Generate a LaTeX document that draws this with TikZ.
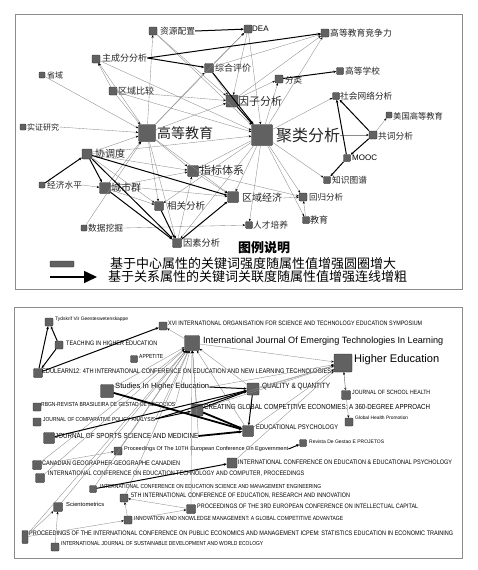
\documentclass[tikz,border=0pt]{standalone}
\usepackage{fontspec}
\setmainfont{Liberation Sans}
\newfontfamily\cjk{Noto Sans CJK SC}
\usetikzlibrary{arrows.meta}
\newcommand\bw[2]{\scalebox{1}[1.18]{\resizebox{#1pt}{!}{#2}}}
\newcommand\bm[2]{\resizebox{#1pt}{!}{#2}}
\tikzset{
  sq/.style={draw=black!85, fill=black!62, rounded corners=0.8pt, minimum size=#1, inner sep=0pt, line width=0.4pt},
  tl/.style={anchor=west, inner sep=0pt, text=black!85, font=\cjk\fontsize{#1}{#1}\selectfont},
  el/.style={anchor=west, inner sep=0pt, text=black},
  ln/.style={draw=black!45, line width=0.35pt, -{Stealth[length=2.6pt,width=2.2pt,black]}},
  lk/.style={draw=black, line width=1.0pt, -{Stealth[length=3pt,width=2.6pt]}},
  lkk/.style={draw=black, line width=1.8pt, -{Stealth[length=3.4pt,width=3pt]}},
  frame/.style={draw=black!45, line width=0.8pt}
}
\begin{document}
\begin{tikzpicture}[x=1pt,y=-1pt]
\useasboundingbox (0,0) rectangle (477,570);
\fill[white] (0,0) rectangle (477,570);
\draw[frame] (15,14) rectangle (462,289);
\draw[frame] (14,307) rectangle (462,558);

% ---------- top panel nodes ----------
\node[sq=8]  (zyp)  at (153,31)  {};
\node[sq=8]  (dea)  at (248,29)  {};
\node[sq=8]  (jzl)  at (325,33)  {};
\node[sq=8]  (zcf)  at (96,59)   {};
\node[sq=9]  (zhp)  at (209,68)  {};
\node[sq=6]  (sy)   at (42,75)   {};
\node[sq=7]  (gdx)  at (340,71)  {};
\node[sq=8]  (fl)   at (279,79)  {};
\node[sq=8]  (qyb)  at (113,91)  {};
\node[sq=12] (yzf)  at (232,101) {};
\node[sq=7]  (shw)  at (336,96)  {};
\node[sq=6]  (mg)   at (389,115) {};
\node[sq=6]  (szy)  at (23,127)  {};
\node[sq=17] (gdjy) at (147,133) {};
\node[sq=21] (jl)   at (262,135) {};
\node[sq=8]  (gc)   at (373,135) {};
\node[sq=10] (xtd)  at (87,154)  {};
\node[sq=7]  (mooc) at (347,158) {};
\node[sq=11] (zbt)  at (193,171) {};
\node[sq=7]  (zs)   at (327,180) {};
\node[sq=6]  (jj)   at (42,185)  {};
\node[sq=11] (csq)  at (105,188) {};
\node[sq=11] (qyj)  at (233,197) {};
\node[sq=8]  (hg)   at (303,197) {};
\node[sq=9]  (xg)   at (159,206) {};
\node[sq=7]  (jy)   at (306,220) {};
\node[sq=7]  (rc)   at (249,225) {};
\node[sq=6]  (sj)   at (84,228)  {};
\node[sq=9]  (ys)   at (177,243) {};

\node[tl=8.7] (zypL)  at (160,31)  {资源配置};
\node[el, font=\fontsize{8}{8}\selectfont] (deaL) at (252,29) {DEA};
\node[tl=8.8] (jzlL)  at (330,33)  {高等教育竞争力};
\node[tl=9]   (zcfL)  at (102,58)  {主成分分析};
\node[tl=9]   (zhpL)  at (215,68)  {综合评价};
\node[tl=8]   (syL)   at (47,75)   {省域};
\node[tl=8.7] (gdxL)  at (345,71)  {高等学校};
\node[tl=8.5] (flL)   at (285,80)  {分类};
\node[tl=9]   (qybL)  at (118,91)  {区域比较};
\node[tl=11]  (yzfL)  at (238,101) {因子分析};
\node[tl=8.7] (shwL)  at (340,96)  {社会网络分析};
\node[tl=8.3] (mgL)   at (393,116) {美国高等教育};
\node[tl=8]   (szyL)  at (27,127)  {实证研究};
\node[tl=14]  (gdjyL) at (157,133) {高等教育};
\node[tl=16]  (jlL)   at (276,135) {聚类分析};
\node[tl=8.7] (gcL)   at (378,136) {共词分析};
\node[tl=10]  (xtdL)  at (95,154)  {协调度};
\node[el, font=\fontsize{8}{8}\selectfont] (moocL) at (352,158) {MOOC};
\node[tl=11]  (zbtL)  at (200,170) {指标体系};
\node[tl=8.7] (zsL)   at (332,180) {知识图谱};
\node[tl=8.7] (jjL)   at (47,185)  {经济水平};
\node[tl=10]  (csqL)  at (111,188) {城市群};
\node[tl=10]  (qyjL)  at (242,198) {区域经济};
\node[tl=8.5] (hgL)   at (309,197) {回归分析};
\node[tl=9.5] (xgL)   at (167,206) {相关分析};
\node[tl=9]   (jyL)   at (310,220) {教育};
\node[tl=8.7] (rcL)   at (253,225) {人才培养};
\node[tl=8.7] (sjL)   at (88,228)  {数据挖掘};
\node[tl=9.2] (ysL)   at (183,243) {因素分析};

% ---------- top panel edges ----------
\foreach \a/\b in {gdjy/zyp, gdjy/zcf, zyp/yzf, zyp/jl, sy/gdjy, szyL.east/gdjy,
  qyb/gdjy, qyb/yzf, qyb/jl, gdjy/yzf, gdjy/zhp, gdjy/dea, zhp/yzf, zhp/dea,
  zhp/jzl, dea/yzf, dea/jl, yzf/fl, jl/fl, yzf/jzl, jl/jzl, jl/shw, jlL.east/gc,
  gc/mg, jl/zs, jl/hg, jl/jy, jl/rc, jl/zbt, jl/qyj, jl/xg, jl/ys, gdjy/zbt,
  gdjy/xg, gdjy/ys, gdjy/qyj, xtd/xg, xtd/zbt, xtd/gdjy, xtd/jl, jjL.east/csq,
  csq/xg, csqL.east/qyj, csq/gdjy, csq/zbt, sjL.east/rc, sj/gdjy, ys/zbt,
  qyjL.east/hg, zbt/hg, jy/hg, zbt/qyj, zcf/jl, qyb/zcf}
  \draw[ln] (\a) -- (\b);
\foreach \a/\b in {zypL.east/dea, zcfL.east/jzl, zcfL.east/zhp, zhp/jl, yzf/jl,
  fl/gdx, gc/shw, gc/mooc, mooc/shw, mooc/zs, jj/xtd, xtd/csq, xtd/ys, xtd/qyj,
  csq/ys, xg/ys, ys/qyj}
  \draw[lk] (\a) -- (\b);

% ---------- legend ----------
\node[font=\cjk\bfseries\fontsize{13}{13}\selectfont, inner sep=0pt] (legT) at (264,248) {图例说明};
\node[sq=6, minimum width=24] (legBox) at (62,264) {};
\coordinate (legA) at (50,277);
\coordinate (legB) at (97,277);
\draw[line width=1.6pt, -{Triangle[length=13pt,width=12pt]}] (legA) -- (legB);
\node[anchor=west, inner sep=0pt, font=\cjk\fontsize{13}{13}\selectfont] (leg1) at (110,264) {基于中心属性的关键词强度随属性值增强圆圈增大};
\node[anchor=west, inner sep=0pt, font=\cjk\fontsize{13}{13}\selectfont] (leg2) at (108,277) {基于关系属性的关键词关联度随属性值增强连线增粗};

% ---------- bottom panel nodes ----------
\node[sq=8]  (tyd)   at (49,322)  {};
\node[sq=8]  (teach) at (59,345)  {};
\node[sq=9]  (edu12) at (38,373)  {};
\node[sq=7]  (app)   at (134,359) {};
\node[sq=8]  (xvi)   at (163,326) {};
\node[sq=15] (ijet)  at (192,343) {};
\node[sq=18] (he)    at (343,363) {};
\node[sq=13] (sihe)  at (107,391) {};
\node[sq=8]  (rbgn)  at (37,407)  {};
\node[sq=8]  (jcpa)  at (37,422)  {};
\node[sq=12] (qq)    at (253,389) {};
\node[sq=12] (cge)   at (197,410) {};
\node[sq=9]  (jsh)   at (346,395) {};
\node[sq=8]  (ghp)   at (349,422) {};
\node[sq=11] (ep)    at (248,431) {};
\node[sq=11] (jssm)  at (49,438)  {};
\node[sq=8]  (p10)   at (118,451) {};
\node[sq=7]  (rgp)   at (303,443) {};
\node[sq=9]  (cgc)   at (37,465)  {};
\node[sq=10] (iceep) at (232,463) {};
\node[sq=9]  (icet)  at (40,478)  {};
\node[sq=7]  (icesm) at (93,489)  {};
\node[sq=8]  (iceri) at (124,498) {};
\node[sq=9]  (scim)  at (58,507)  {};
\node[sq=9]  (ecic)  at (191,509) {};
\node[sq=8]  (ikm)   at (128,520) {};
\node[sq=6, minimum height=13] (icpem) at (25,537) {};
\node[sq=8]  (ijsd)  at (55,547)  {};

\node[el] (tydL)   at (55,319)  {\bm{73}{Tydskrif Vir Geesteswetenskappe}};
\node[el] (teachL) at (66,343)  {\bw{91}{TEACHING IN HIGHER EDUCATION}};
\node[el] (edu12L) at (42,371)  {\bw{289}{EDULEARN12: 4TH INTERNATIONAL CONFERENCE ON EDUCATION AND NEW LEARNING TECHNOLOGIES}};
\node[el] (appL)   at (139,356) {\bw{24}{APPETITE}};
\node[el] (xviL)   at (168,323) {\bw{254}{XVI INTERNATIONAL ORGANISATION FOR SCIENCE AND TECHNOLOGY EDUCATION SYMPOSIUM}};
\node[el] (ijetL)  at (203,341) {\bm{240}{International Journal Of Emerging Technologies In Learning}};
\node[el] (heL)    at (354,360) {\bm{85}{Higher Education}};
\node[el] (siheL)  at (115,387) {\bm{94}{Studies In Higher Education}};
\node[el] (rbgnL)  at (41,404)  {\bw{134}{RBGN-REVISTA BRASILEIRA DE GESTAD DE NEGOCIOS}};
\node[el] (jcpaL)  at (43,419)  {\bw{112}{JOURNAL OF COMPARATIVE POLICY ANALYSIS}};
\node[el] (qqL)    at (262,387) {\bw{68}{QUALITY \& QUANTITY}};
\node[el] (cgeL)   at (204,407) {\bw{226}{CREATING GLOBAL COMPETITIVE ECONOMIES: A 360-DEGREE APPROACH}};
\node[el] (jshL)   at (352,392) {\bw{78}{JOURNAL OF SCHOOL HEALTH}};
\node[el] (ghpL)   at (355,418) {\bm{53}{Global Health Promotion}};
\node[el] (epL)    at (256,427) {\bw{82}{EDUCATIONAL PSYCHOLOGY}};
\node[el] (jssmL)  at (55,436)  {\bw{143}{JOURNAL OF SPORTS SCIENCE AND MEDICINE}};
\node[el] (p10L)   at (124,449) {\bm{164}{Proceedings Of The 10TH European Conference On Egovernment}};
\node[el] (rgpL)   at (309,442) {\bm{75}{Revista De Gestao E PROJETOS}};
\node[el] (cgcL)   at (42,463)  {\bw{138}{CANADIAN GEOGRAPHER-GEOGRAPHE CANADIEN}};
\node[el] (iceepL) at (238,462) {\bw{214}{INTERNATIONAL CONFERENCE ON EDUCATION \& EDUCATIONAL PSYCHOLOGY}};
\node[el] (icetL)  at (48,474)  {\bw{256}{INTERNATIONAL CONFERENCE ON EDUCATION TECHNOLOGY AND COMPUTER, PROCEEDINGS}};
\node[el] (icesmL) at (100,486) {\bw{221}{INTERNATIONAL CONFERENCE ON EDUCATION SCIENCE AND MANAGEMENT ENGINEERING}};
\node[el] (iceriL) at (131,496) {\bw{219}{5TH INTERNATIONAL CONFERENCE OF EDUCATION, RESEARCH AND INNOVATION}};
\node[el] (scimL)  at (66,504)  {\bm{38}{Scientometrics}};
\node[el] (ecicL)  at (197,506) {\bw{221}{PROCEEDINGS OF THE 3RD EUROPEAN CONFERENCE ON INTELLECTUAL CAPITAL}};
\node[el] (ikmL)   at (134,518) {\bw{209}{INNOVATION AND KNOWLEDGE MANAGEMENT: A GLOBAL COMPETITIVE ADVANTAGE}};
\node[el] (icpemL) at (29,533)  {\bw{424}{PROCEEDINGS OF THE INTERNATIONAL CONFERENCE ON PUBLIC ECONOMICS AND MANAGEMENT ICPEM: STATISTICS EDUCATION IN ECONOMIC TRAINING}};
\node[el] (ijsdL)  at (61,543)  {\bw{202}{INTERNATIONAL JOURNAL OF SUSTAINABLE DEVELOPMENT AND WORLD ECOLOGY}};

% ---------- bottom panel edges ----------
\foreach \a/\b in {ijet/xvi, ijet/he, edu12L.east/he,
  sihe/ijet, rbgnL.east/ijet, jcpaL.east/ijet, cge/ijet, qq/ijet, ep/ijet,
  jssmL.east/ijet, cgc/ijet, icet/ijet, p10/ijet, icesm/ijet, iceri/ijet,
  ecic/ijet, icpem/ijet, scim/ijet,
  qq/he, cge/he, ep/he, iceep/he, siheL.east/he, jcpaL.east/he,
  he/jsh, jsh/he, jsh/ghp, cgc/p10, ijsd/scim, icpem/scim, icpem/ikm,
  ikm/iceri, ecic/iceri, ikm/ecic}
  \draw[ln] (\a) -- (\b);
\foreach \a/\b in {teach/tyd, edu12/tyd, teach/edu12, edu12/xvi, siheL.east/qq,
  cge/qq, qq/ep, jssm/qq, jcpaL.east/qq, jcpaL.east/cge, p10L.east/rgp, icesm/iceep}
  \draw[lk] (\a) -- (\b);
\foreach \a/\b in {sihe/ep, cge/ep, jssmL.east/ep}
  \draw[lkk] (\a) -- (\b);
\end{tikzpicture}
\end{document}
